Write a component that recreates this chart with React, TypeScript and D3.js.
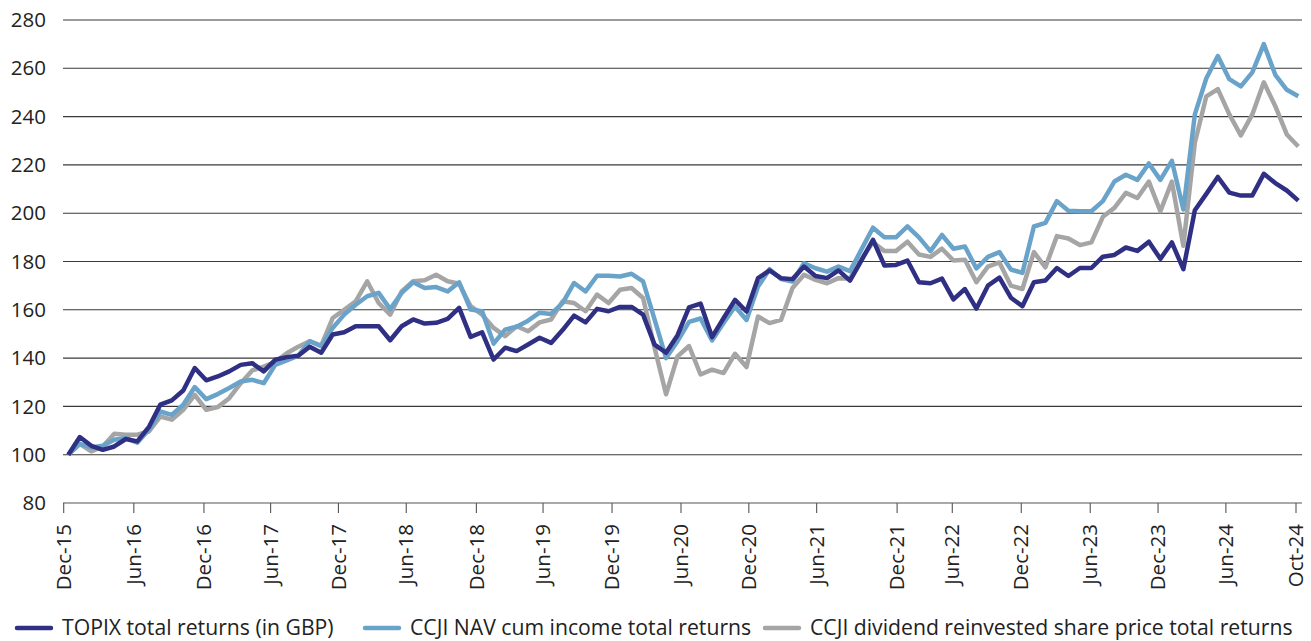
import * as React from 'react';
import * as d3 from 'd3';

// monthly index values, rebased to 100
const topix = [
  100, 107.3, 103.7, 102, 103.4, 106.5, 105.5, 111.4, 120.7, 122.5, 126.6, 135.9, 130.8, 132.4, 134.5, 137.2,
  137.9, 134.5, 139.3, 140.4, 141, 144.7, 142.2, 149.8, 150.7, 153.2, 153.2, 153.2, 147.4, 153.2, 156, 154.3,
  154.6, 156.2, 160.8, 148.8, 150.7, 139.4, 144.3, 142.9, 145.6, 148.4, 146.3, 151.6, 157.6, 154.8, 160.4, 159.4,
  161.2, 161.2, 158, 145.6, 142.2, 149.5, 161, 162.6, 148.7, 156.5, 164.1, 159.3, 173.1, 176.3, 173.1, 172.7,
  177.9, 174, 173.1, 176.3, 172.1, 180.5, 189, 178.3, 178.6, 180.4, 171.4, 171, 172.9, 164.3, 168.6, 160.5,
  170, 173.3, 165, 161.5, 171.4, 172.1, 177.3, 174, 177.3, 177.3, 182, 182.7, 185.8, 184.4, 188.2, 181.1,
  187.9, 176.8, 201.2, 208, 215, 208.5, 207.3, 207.3, 216.3, 212.5, 209.4, 205.2,
];
const navCumIncome = [
  100, 104.5, 103, 103.7, 106.2, 106.9, 105, 110.3, 117.9, 116.5, 120.7, 128, 123, 125.1, 127.6, 130.3,
  131, 129.6, 137.2, 139, 141, 147, 144.9, 152.5, 158, 162.1, 165.6, 167, 160.3, 167, 171.4, 169,
  169.4, 167.6, 171.4, 160.1, 159.4, 146, 151.8, 153, 155.5, 158.8, 158.3, 162.8, 171.1, 167.6, 174.1, 174.1,
  173.8, 174.9, 171.8, 156, 140, 147, 155, 156.4, 147.3, 154.5, 161.4, 155.8, 169.6, 176.8, 172.7, 171.7,
  179.3, 177.2, 175.8, 177.9, 176, 185, 194, 190, 190, 194.5, 190, 184.3, 191, 185.3, 186.2, 177.1,
  181.9, 183.9, 176.7, 175.3, 194.5, 196, 205, 201, 200.8, 200.8, 205, 213.1, 215.9, 213.8, 220.6, 213.8,
  221.7, 201.5, 240.9, 255.9, 265.1, 255.5, 252.5, 258.3, 270, 257.3, 251.1, 248.4,
];
const sharePrice = [
  100, 104.5, 101.4, 103.4, 108.7, 108.3, 108.3, 109.6, 115.8, 114.5, 118.6, 124.8, 118.6, 119.7, 123.4, 129.6,
  134.9, 136.5, 138.5, 142, 144.7, 147, 145.2, 156.6, 160, 163.5, 171.8, 162.8, 158, 167.6, 171.8, 172.2,
  174.5, 171.8, 170.8, 161.5, 158, 152.5, 149.1, 153.2, 151.1, 154.8, 156, 163.5, 162.8, 159.4, 166.3, 162.8,
  168.3, 169, 164.9, 144.3, 125, 140.7, 145, 133.2, 135.2, 133.8, 141.8, 136.3, 157.2, 154.5, 155.8, 169,
  174.5, 172.4, 171, 173.1, 173, 181, 188, 184.3, 184.3, 188.2, 182.9, 181.9, 185.3, 180.4, 180.7, 171.4,
  177.9, 179.6, 170, 168.6, 183.9, 177.6, 190.5, 189.5, 186.8, 187.9, 198.5, 202.2, 208.4, 206.3, 213.1, 200.8,
  213.1, 186.5, 229.2, 248.4, 251.4, 240.9, 232.2, 240.9, 254.2, 244.3, 232.6, 227.6,
];

// category labels and where they sit along the month index
const tickLabels = [
  'Dec-15', 'Jun-16', 'Dec-16', 'Jun-17', 'Dec-17', 'Jun-18', 'Dec-18', 'Jun-19', 'Dec-19', 'Jun-20',
  'Dec-20', 'Jun-21', 'Dec-21', 'Jun-22', 'Dec-22', 'Jun-23', 'Dec-23', 'Jun-24', 'Oct-24',
];
const tickAt = [
  -0.4, 5.7, 11.8, 17.6, 23.5, 29.4, 35.5, 41.3, 47.3, 53.3,
  59.2, 65.1, 72.1, 76.9, 82.9, 88.9, 94.8, 100.7, 106.8,
];
const yTicks = [80, 100, 120, 140, 160, 180, 200, 220, 240, 260, 280];

const seriesNames = [
  'TOPIX total returns (in GBP)',
  'CCJI NAV cum income total returns',
  'CCJI dividend reinvested share price total returns',
];
const colors = ['#2f2f83', '#6aa3c9', '#a5a5a5'];

const W = 1311, H = 641;
const font = '"Open Sans", "Noto Sans", sans-serif';

export default function App() {
  const x = d3.scaleLinear().domain([0, topix.length - 1]).range([68.3, 1298.3]);
  const y = d3.scaleLinear().domain([80, 280]).range([503, 20]);
  const line = d3.line<number>()
    .x((_, i) => x(i))
    .y(d => y(d));

  const series = [topix, navCumIncome, sharePrice];
  const drawOrder = [2, 1, 0];
  const legendX = [17, 365, 765];

  return (
    <svg width={W} height={H} style={{ position: 'absolute', left: 0, top: 0, background: '#fff' }}
      fontFamily={font}>
      {yTicks.map(t => (
        <g key={t}>
          <line x1={63} x2={1302} y1={y(t)} y2={y(t)} stroke={t === 80 ? '#555' : '#3a3a3a'} strokeWidth={1.1} />
          <text x={46} y={y(t)} dy="0.35em" textAnchor="end" fontSize={20.5} fill="#222">{t}</text>
        </g>
      ))}
      {tickAt.map((t, i) => (
        <g key={tickLabels[i]} transform={`translate(${x(t)},${y(80)})`}>
          <line y1={0} y2={10} stroke="#555" strokeWidth={1.1} />
          <text transform="translate(0,21) rotate(-90)" textAnchor="end" dy="0.35em"
            fontSize={20.5} fill="#222">{tickLabels[i]}</text>
        </g>
      ))}
      {drawOrder.map(k => (
        <path key={k} d={line(series[k]) || ''} fill="none" stroke={colors[k]}
          strokeWidth={4.5} strokeLinejoin="round" />
      ))}
      {seriesNames.map((n, i) => (
        <g key={n} transform={`translate(${legendX[i]},628)`}>
          <line x1={0} x2={34} y1={0} y2={0} stroke={colors[i]} strokeWidth={4.5} strokeLinecap="round" />
          <text x={45} y={0} dy="0.35em" fontSize={21.2} fill="#222">{n}</text>
        </g>
      ))}
    </svg>
  );
}
